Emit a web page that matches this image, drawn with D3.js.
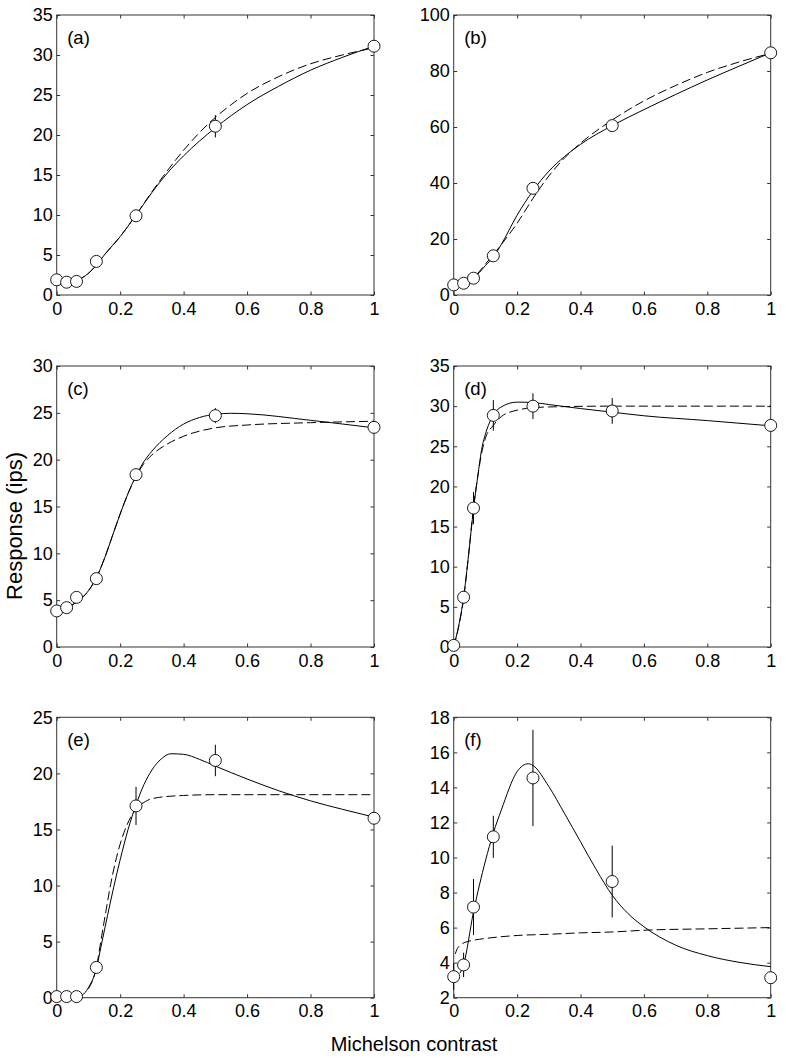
<!DOCTYPE html>
<html>
<head>
<meta charset="utf-8">
<script src="https://cdn.jsdelivr.net/npm/d3@7"></script>
<style>
html,body{margin:0;padding:0;background:#fff;}
svg{display:block;}
text{font-family:"Liberation Sans", Arial, Helvetica, sans-serif;fill:#000;}
</style>
</head>
<body>
<svg id="chart" width="786" height="1058"></svg>
<script>
// ---------- data ----------
const contrast = [0, 0.03125, 0.0625, 0.125, 0.25, 0.5, 1];
const xTicks = [0, 0.2, 0.4, 0.6, 0.8, 1];
const xTickLabels = ["0", "0.2", "0.4", "0.6", "0.8", "1"];
const panelLabels = ["(a)", "(b)", "(c)", "(d)", "(e)", "(f)"];

const yDomainA = [0, 35], yTicksA = [0, 5, 10, 15, 20, 25, 30, 35];
const yDomainB = [0, 100], yTicksB = [0, 20, 40, 60, 80, 100];
const yDomainC = [0, 30], yTicksC = [0, 5, 10, 15, 20, 25, 30];
const yDomainD = [0, 35], yTicksD = [0, 5, 10, 15, 20, 25, 30, 35];
const yDomainE = [0, 25], yTicksE = [0, 5, 10, 15, 20, 25];
const yDomainF = [2, 18], yTicksF = [2, 4, 6, 8, 10, 12, 14, 16, 18];

const respA = [1.9, 1.6, 1.7, 4.2, 9.9, 21.1, 31.1];
const errA  = [0.2, 0.2, 0.2, 0.5, 0.5, 1.4, 0.3];
const respB = [3.6, 4.2, 6.0, 14.0, 38.1, 60.5, 86.5];
const errB  = [0.8, 0.8, 0.8, 1.0, 1.5, 1.2, 1.0];
const respC = [3.85, 4.2, 5.3, 7.3, 18.4, 24.7, 23.45];
const errC  = [0.3, 0.3, 0.3, 0.6, 0.5, 0.8, 0.3];
const respD = [0.2, 6.2, 17.3, 28.85, 30.0, 29.4, 27.6];
const errD  = [0.2, 0.8, 2.0, 1.9, 1.6, 1.6, 0.5];
const respE = [0.1, 0.1, 0.1, 2.7, 17.1, 21.15, 16.0];
const errE  = [0.1, 0.1, 0.1, 0.5, 1.7, 1.4, 0.3];
const respF = [3.2, 3.87, 7.17, 11.18, 14.54, 8.63, 3.14];
const errF  = [0.75, 0.7, 1.6, 1.2, 2.75, 2.05, 0.3];

const solidA = [[0.0625,1.8],[0.09,2.4],[0.125,3.7],[0.15,5.0],[0.2,7.3],[0.25,10.0],[0.3,12.8],[0.35,15.3],[0.4,17.4],[0.5,20.9],[0.6,23.8],[0.7,26.1],[0.8,28.1],[0.9,29.7],[1,31.1]];
const dashA  = [[0.0625,1.8],[0.1,2.7],[0.125,3.8],[0.15,5.0],[0.2,7.3],[0.25,10.0],[0.3,12.9],[0.35,15.6],[0.4,18.1],[0.45,20.3],[0.5,22.2],[0.55,23.8],[0.6,25.2],[0.7,27.3],[0.8,28.9],[0.9,30.0],[1,30.9]];
const solidB = [[0,3.6],[0.0625,6.0],[0.1,10.5],[0.125,13.5],[0.15,18],[0.2,28.5],[0.25,37.2],[0.3,44.2],[0.35,49.5],[0.4,53.8],[0.5,60.5],[0.6,66.2],[0.7,71.6],[0.8,76.8],[0.9,81.7],[1,86.5]];
const dashB  = [[0,3.6],[0.0625,6.3],[0.1,11],[0.15,18],[0.2,25.6],[0.25,34.5],[0.3,42.5],[0.35,49],[0.4,54.2],[0.5,62.5],[0.6,69.3],[0.7,74.8],[0.8,79.5],[0.9,83.2],[1,86.3]];
const solidC = [[0,3.85],[0.0625,4.8],[0.1,6.0],[0.125,7.4],[0.15,9.4],[0.175,11.8],[0.2,14.2],[0.225,16.4],[0.25,18.3],[0.275,19.8],[0.3,20.9],[0.35,22.6],[0.4,23.8],[0.45,24.5],[0.5,24.85],[0.55,24.95],[0.6,24.9],[0.8,24.2],[1,23.4]];
const dashC  = [[0,3.85],[0.0625,4.8],[0.1,6.0],[0.125,7.4],[0.15,9.4],[0.175,11.8],[0.2,14.2],[0.225,16.4],[0.25,18.2],[0.275,19.6],[0.3,20.5],[0.35,21.7],[0.4,22.5],[0.5,23.4],[0.6,23.7],[0.8,23.95],[1,24.1]];
const solidD = [[0,0.1],[0.015,2.5],[0.03125,6.2],[0.047,11.5],[0.0625,17.2],[0.075,21],[0.09,25],[0.1,26.5],[0.125,28.9],[0.15,29.9],[0.2,30.5],[0.25,30.45],[0.3,30.2],[0.4,29.7],[0.5,29.25],[0.6,28.8],[0.8,28.2],[1,27.55]];
const dashD  = [[0,0.1],[0.015,2.4],[0.03125,6.0],[0.047,11.5],[0.0625,17.4],[0.075,21],[0.09,24.5],[0.1,26.0],[0.125,27.6],[0.15,28.7],[0.2,29.5],[0.25,29.8],[0.3,29.9],[0.5,30],[1,30]];
const solidE = [[0.0625,0],[0.08,0.2],[0.1,0.9],[0.125,2.6],[0.14,4.6],[0.16,7.3],[0.18,9.9],[0.2,12.3],[0.225,15.0],[0.25,17.2],[0.275,19.0],[0.3,20.3],[0.33,21.3],[0.36,21.75],[0.4,21.7],[0.45,21.25],[0.5,20.65],[0.6,19.5],[0.7,18.45],[0.8,17.55],[0.9,16.8],[1,16.1]];
const dashE  = [[0.1,0.8],[0.125,2.7],[0.14,5.2],[0.155,7.7],[0.17,10.1],[0.185,12.1],[0.2,13.7],[0.22,15.3],[0.25,16.8],[0.28,17.5],[0.32,17.85],[0.4,18.03],[0.5,18.1],[1,18.1]];
const solidF = [[0.02,3.4],[0.03125,3.9],[0.0625,6.9],[0.1,9.8],[0.125,11.4],[0.15,12.7],[0.2,14.9],[0.235,15.35],[0.25,15.25],[0.3,14.05],[0.35,12.5],[0.4,10.9],[0.45,9.3],[0.5,7.85],[0.55,6.8],[0.6,6.05],[0.7,5.0],[0.8,4.4],[0.9,4.02],[1,3.77]];
const dashF  = [[0.005,4.5],[0.01,4.75],[0.02,5.0],[0.035,5.15],[0.0625,5.28],[0.1,5.38],[0.2,5.55],[0.3,5.62],[0.4,5.7],[0.5,5.75],[0.6,5.85],[0.8,5.93],[1,6.0]];

// ---------- layout ----------
const colRanges = [[56.7, 374], [453.7, 770.7]];
const rowRanges = [[295, 15], [647, 366], [997.7, 717.3]];

const panels = [
  {resp: respA, err: errA, solid: solidA, dash: dashA, dom: yDomainA, ticks: yTicksA},
  {resp: respB, err: errB, solid: solidB, dash: dashB, dom: yDomainB, ticks: yTicksB},
  {resp: respC, err: errC, solid: solidC, dash: dashC, dom: yDomainC, ticks: yTicksC},
  {resp: respD, err: errD, solid: solidD, dash: dashD, dom: yDomainD, ticks: yTicksD},
  {resp: respE, err: errE, solid: solidE, dash: dashE, dom: yDomainE, ticks: yTicksE},
  {resp: respF, err: errF, solid: solidF, dash: dashF, dom: yDomainF, ticks: yTicksF}
];

const svg = d3.select("#chart");
const TL = 3.5;

panels.forEach((p, i) => {
  const col = i % 2, row = Math.floor(i / 2);
  const x = d3.scaleLinear().domain([0, 1]).range(colRanges[col]);
  const y = d3.scaleLinear().domain(p.dom).range(rowRanges[row]);
  const g = svg.append("g");
  const [x0, x1] = x.range(), [y0, y1] = y.range();

  g.append("rect").attr("x", x0).attr("y", y1).attr("width", x1 - x0).attr("height", y0 - y1)
    .attr("fill", "none").attr("stroke", "#333").attr("stroke-width", 1);

  const ax = g.append("g").attr("transform", `translate(0,${y0})`)
    .call(d3.axisBottom(x).tickValues(xTicks).tickFormat((d, k) => xTickLabels[k]).tickSizeInner(-TL).tickSizeOuter(0).tickPadding(7));
  const axTop = g.append("g").attr("transform", `translate(0,${y1})`)
    .call(d3.axisTop(x).tickValues(xTicks).tickFormat("").tickSizeInner(-TL).tickSizeOuter(0));
  const ay = g.append("g").attr("transform", `translate(${x0},0)`)
    .call(d3.axisLeft(y).tickValues(p.ticks).tickFormat(d3.format("d")).tickSizeInner(-TL).tickSizeOuter(0).tickPadding(4));
  const ayR = g.append("g").attr("transform", `translate(${x1},0)`)
    .call(d3.axisRight(y).tickValues(p.ticks).tickFormat("").tickSizeInner(-TL).tickSizeOuter(0));
  [ax, axTop, ay, ayR].forEach(a => {
    a.attr("font-size", null).attr("font-family", null);
    a.select(".domain").remove();
    a.selectAll("line").attr("stroke", "#333");
    a.selectAll("text").style("font-size", "18px").style("font-family", '"Liberation Sans", Arial, sans-serif').attr("fill", "#000");
  });
  ax.selectAll("text").attr("dy", "0.71em");

  g.append("text").attr("x", x0 + 10.5).attr("y", y1 + 28.5).attr("font-size", 18.5).text(panelLabels[i]);

  const line = d3.line().x(d => x(d[0])).y(d => y(d[1])).curve(d3.curveMonotoneX);
  g.append("path").attr("d", line(p.dash)).attr("fill", "none").attr("stroke", "#000")
    .attr("stroke-width", 1).attr("stroke-dasharray", "9,4");
  g.append("path").attr("d", line(p.solid)).attr("fill", "none").attr("stroke", "#000").attr("stroke-width", 1);

  g.selectAll(".eb").data(contrast).enter().append("line")
    .attr("x1", d => x(d)).attr("x2", d => x(d))
    .attr("y1", (d, k) => y(p.resp[k] - p.err[k])).attr("y2", (d, k) => y(p.resp[k] + p.err[k]))
    .attr("stroke", "#000").attr("stroke-width", 1);

  g.selectAll(".pt").data(contrast).enter().append("circle")
    .attr("cx", d => x(d)).attr("cy", (d, k) => y(p.resp[k])).attr("r", 6)
    .attr("fill", "#fff").attr("stroke", "#000").attr("stroke-width", 0.9);
});

svg.append("text").attr("transform", "translate(22,526) rotate(-90)").attr("text-anchor", "middle")
  .attr("font-size", 22).text("Response (ips)");
svg.append("text").attr("x", 414).attr("y", 1051).attr("text-anchor", "middle")
  .attr("font-size", 20).text("Michelson contrast");
</script>
</body>
</html>
